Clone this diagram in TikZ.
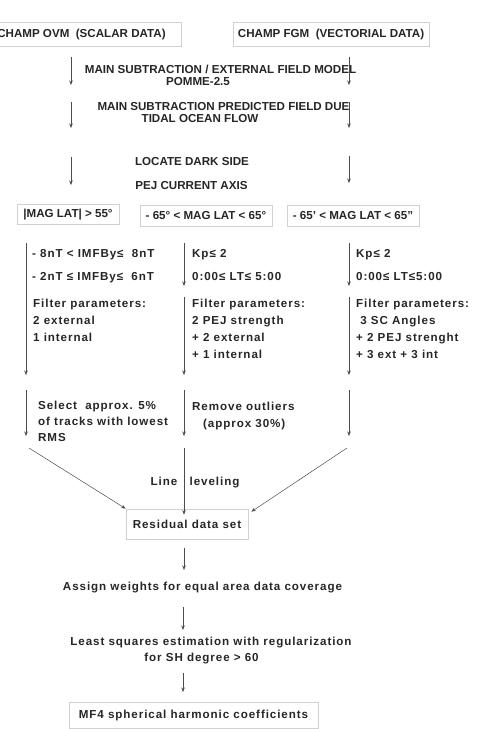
\documentclass[tikz,border=0pt]{standalone}
\usepackage{fontspec}
\setmainfont{Liberation Sans}
\usetikzlibrary{arrows.meta}

\tikzset{
  capstxt/.style={font=\bfseries\fontsize{11.6}{17}\selectfont, text=black!85, inner sep=0pt},
  lowtxt/.style={font=\bfseries\fontsize{11.6}{17}\selectfont\addfontfeatures{LetterSpace=8}, text=black!85, inner sep=0pt, align=left},
  databox/.style={draw=black!18, line width=0.7pt, inner sep=0pt},
  arr/.style={draw=black!70, line width=0.5pt, -{Stealth[length=4.5pt,width=3.5pt]}}
}

\begin{document}
\begin{tikzpicture}[x=1pt,y=-1pt]
\useasboundingbox (0,0) rectangle (489,729);

% data sources
\node[databox, capstxt, inner xsep=16pt, minimum height=24, anchor=east] (ovm) at (182,34) {CHAMP OVM~~(SCALAR DATA)};
\node[databox, capstxt, minimum width=196, minimum height=24] (fgm) at (331,34) {CHAMP FGM~~(VECTORIAL DATA)};

% preprocessing
\node[capstxt] (main1) at (220.5,69) {MAIN SUBTRACTION / EXTERNAL FIELD MODEL};
\node[capstxt] (pomme) at (198,82) {POMME-2.5};
\node[capstxt] (main2) at (223.5,107) {MAIN SUBTRACTION PREDICTED FIELD DUE};
\node[capstxt] (tidal) at (200,119) {TIDAL OCEAN FLOW};
\node[capstxt] (dark) at (192,162) {LOCATE DARK SIDE};
\node[capstxt] (pej) at (191.5,186) {PEJ CURRENT AXIS};

% latitude bands
\node[databox, capstxt, minimum width=102, minimum height=20] (latA) at (68,214.5) {|MAG LAT| > 55°};
\node[databox, capstxt, minimum width=132, minimum height=21] (latB) at (206,215.5) {- 65° < MAG LAT < 65°};
\node[databox, capstxt, minimum width=132, minimum height=21] (latC) at (353,215.5) {- 65' < MAG LAT < 65''};

% selection criteria
\node[lowtxt, anchor=north west] (selA) at (32,248.7) {- 8nT < IMFBy≤~~8nT\\[6pt] - 2nT ≤ IMFBy≤~~6nT};
\node[lowtxt, anchor=north west] (selB) at (192,248.7) {Kp≤ 2\\[6pt]0:00≤ LT≤ 5:00};
\node[lowtxt, anchor=north west] (selC) at (356,248.7) {Kp≤ 2\\[6pt]0:00≤ LT≤5:00};

% filter parameters
\node[lowtxt, anchor=north west] (filtA) at (33,298.7) {Filter parameters:\\2 external\\1 internal};
\node[lowtxt, anchor=north west] (filtB) at (192,298.7) {Filter parameters:\\2 PEJ strength\\+ 2 external\\+ 1 internal};
\node[lowtxt, anchor=north west] (filtC) at (356,298.7) {Filter parameters:\\~3 SC Angles\\+ 2 PEJ strenght\\+ 3 ext + 3 int};

% track selection
\node[lowtxt, anchor=north west] (trkA) at (38,400.7) {Select~~approx. 5\%\\[-1pt]of tracks with lowest\\[-1pt]RMS};
\node[lowtxt, anchor=north west] (trkB) at (192,401.7) {Remove outliers\\[0pt]\hspace*{11pt}(approx 30\%)};
\node[lowtxt] (level) at (195,483) {Line~~~leveling};

% final steps
\node[databox, lowtxt, minimum width=122, minimum height=30] (res) at (187,524) {Residual data set};
\node[lowtxt] (weights) at (202.5,588) {Assign weights for equal area data coverage};
\node[lowtxt] (lsq) at (211,643) {Least squares estimation with regularization};
\node[lowtxt] (shdeg) at (201.5,659) {for SH degree > 60};
\node[databox, lowtxt, minimum width=249, minimum height=26] (mf4) at (193.5,715) {MF4 spherical harmonic coefficients};

% vertical arrows
\foreach \n/\x/\ya/\yb in {1/71/57/85, 2/349/57/85, 3/71/102/128, 4/349/102/128,
    5/71/157/185, 6/349/156/183, 7/26/243/375, 8/184/243/286, 9/349/243/286,
    10/184/297/375, 11/349/297/375, 12/26/390/436, 13/184/390/436, 14/349/390/436,
    15/184/548/570, 16/183/607/630, 17/183/673/692}{
  \coordinate (s\n) at (\x,\ya);
  \coordinate (e\n) at (\x,\yb);
  \draw[arr] (s\n) -- (e\n);
}

% into residual data set
\coordinate (dA) at (29,448);
\coordinate (dB) at (184,448);
\coordinate (dC) at (347,448);
\draw[arr] (dA) -- (res.north west);
\draw[arr] (dB) -- ([yshift=-6]res.north -| dB);
\draw[arr] (dC) -- ([xshift=3,yshift=-3]res.north east);

\end{tikzpicture}
\end{document}
